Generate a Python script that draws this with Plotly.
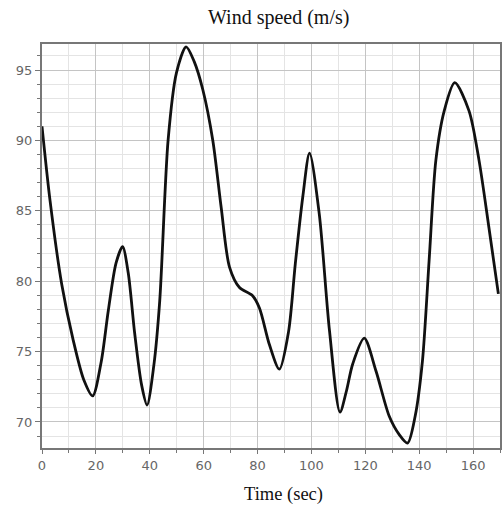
import plotly.graph_objects as go

time_sec = [0, 3, 7.3, 11.6, 15.5, 18.8, 22, 24.6, 27.5, 29.9, 32, 34.4, 37, 39,
            41.5, 43.7, 46.8, 49.9, 53.5, 56.5, 59.7, 63.4, 66.5, 69.6, 73.3, 78,
            80.7, 84.4, 88.1, 91.5, 94, 96.8, 99.3, 102.9, 106.7, 110.6, 113, 115.3,
            119.6, 124, 128.9, 132.6, 135.7, 138.5, 141.2, 143.7, 146.2, 149.3,
            153.2, 158.5, 162.2, 165.9, 169.4]
wind_speed = [91.0, 85.7, 79.8, 75.8, 73.0, 71.85, 74.3, 77.9, 81.3, 82.45, 80.6,
              76.3, 72.6, 71.2, 74.0, 78.6, 90.0, 94.8, 96.65, 95.6, 93.6, 90.0,
              85.25, 81.0, 79.55, 79.0, 78.1, 75.5, 73.75, 76.4, 81.2, 86.0, 89.1,
              84.8, 76.5, 70.7, 72.2, 74.1, 75.95, 73.6, 70.4, 69.1, 68.5, 70.4,
              74.3, 81.5, 88.6, 92.1, 94.1, 92.1, 88.6, 83.8, 79.1]

x_ticks = [0, 20, 40, 60, 80, 100, 120, 140, 160]
y_ticks = [70, 75, 80, 85, 90, 95]

fig = go.Figure()
fig.add_trace(go.Scatter(
    x=time_sec, y=wind_speed, mode="lines",
    line=dict(color="#111111", width=2.8, shape="spline", smoothing=0.8),
    hoverinfo="skip", showlegend=False))

W, H = 503, 511
tick_font = dict(family="DejaVu Sans", size=13, color="#666666")
serif = "Liberation Serif"
fig.update_layout(
    width=W, height=H,
    margin=dict(l=42, r=3, t=44, b=63, autoexpand=False),
    paper_bgcolor="white", plot_bgcolor="white",
    annotations=[
        dict(text="Wind speed (m/s)", xref="paper", yref="paper",
             x=(278 - 42) / (W - 45), y=1 + (44 - 18) / (H - 107),
             xanchor="center", yanchor="middle", showarrow=False,
             font=dict(family=serif, size=20, color="#111111")),
        dict(text="Time (sec)", xref="paper", yref="paper",
             x=(283 - 42) / (W - 45), y=-(494 - 448) / (H - 107),
             xanchor="center", yanchor="middle", showarrow=False,
             font=dict(family=serif, size=18.5, color="#111111")),
    ],
    xaxis=dict(
        range=[0, 170], tickvals=x_ticks, ticktext=[str(v) for v in x_ticks],
        showgrid=True, gridcolor="#c4c4c4", gridwidth=1,
        showline=True, linecolor="#777777", linewidth=2, mirror=True,
        ticks="outside", ticklen=4, tickcolor="#777777", tickfont=tick_font,
        zeroline=False, automargin=False,
        minor=dict(dtick=10, tick0=0, showgrid=True, gridcolor="#e4e4e4",
                   ticks="outside", ticklen=3, tickcolor="#777777"),
    ),
    yaxis=dict(
        range=[68.15, 96.85], tickvals=y_ticks, ticktext=[str(v) for v in y_ticks],
        showgrid=True, gridcolor="#c4c4c4", gridwidth=1,
        showline=True, linecolor="#777777", linewidth=2, mirror=True,
        ticks="outside", ticklen=5, tickcolor="#777777", tickfont=tick_font,
        zeroline=False, automargin=False,
        minor=dict(dtick=1, tick0=70, showgrid=True, gridcolor="#e4e4e4",
                   ticks="outside", ticklen=3, tickcolor="#777777"),
    ),
)

fig.write_html("out.html", config={"displayModeBar": False},
               post_script="document.body.style.margin='0';document.body.style.overflow='hidden';")
